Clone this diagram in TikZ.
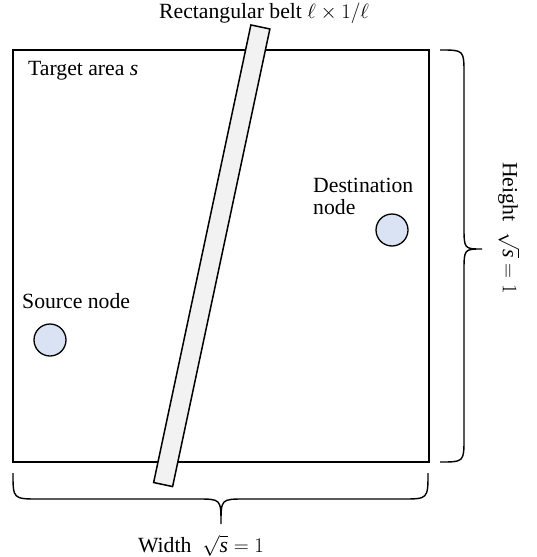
\documentclass[tikz,border=0pt]{standalone}
\usepackage{amsmath}
\usepackage{fontspec}
\setmainfont{Liberation Serif}
\usepackage{tikz}
\usetikzlibrary{positioning, calc}
\usepackage{xcolor}
\definecolor{nodeblue}{HTML}{DAE3F3}
\definecolor{beltgray}{HTML}{F2F2F2}

\begin{document}
\begin{tikzpicture}[x=1pt, y=-1pt,
    lbl/.style={inner sep=0pt, font=\fontsize{21.7}{24}\selectfont},
    area/.style={draw=black, fill=white, line width=1.6pt, minimum width=416pt, minimum height=412pt, inner sep=0pt},
    belt/.style={draw=black, fill=beltgray, line width=1.5pt, minimum width=19.4pt, minimum height=467.8pt, inner sep=0pt, rotate=-12},
    terminal/.style={circle, draw=black, fill=nodeblue, line width=1.3pt, minimum size=32pt, inner sep=0pt},
    brace/.style={draw=black, line width=1.4pt}]
    \useasboundingbox (0,0) rectangle (536,557);

    % target area and belt across it
    \node[area] (target) at (221,256) {};
    \node[belt] (strip) at (211.75,255.75) {};
    \node[lbl] (belttitle) at (264,13.5) {Rectangular belt $\ell\times 1/\ell$};
    \node[lbl, anchor=base west] (arealbl) at (28,75) {Target area \textit{s}};

    % source and destination
    \node[terminal] (src) at (50,340) {};
    \node[lbl, anchor=base west] (srclbl) at (22,308) {Source node};
    \node[terminal] (dst) at (392,230) {};
    \node[lbl, anchor=north west, align=left, font=\fontsize{21.7}{22}\selectfont] (dstlbl) at (313,178) {Destination\\node};

    % braces for width and height
    \draw[brace] (13,473) .. controls (13,499) .. (39,499) -- (197,499)
        .. controls (221,499) .. (221,524) .. controls (221,499) .. (245,499)
        -- (402,499) .. controls (428,499) .. (428,473);
    \draw[brace] (440,50) .. controls (464,50) .. (464,74) -- (464,226)
        .. controls (464,249) .. (482,249) .. controls (464,249) .. (464,272)
        -- (464,438) .. controls (464,462) .. (440,462);
    \node[lbl, anchor=base] (widthlbl) at (201,552) {Width \ $\sqrt{\textit{s}}=1$};
    \node[lbl, rotate=-90] (heightlbl) at (509,228) {Height \ $\sqrt{\textit{s}}=1$};
\end{tikzpicture}
\end{document}
